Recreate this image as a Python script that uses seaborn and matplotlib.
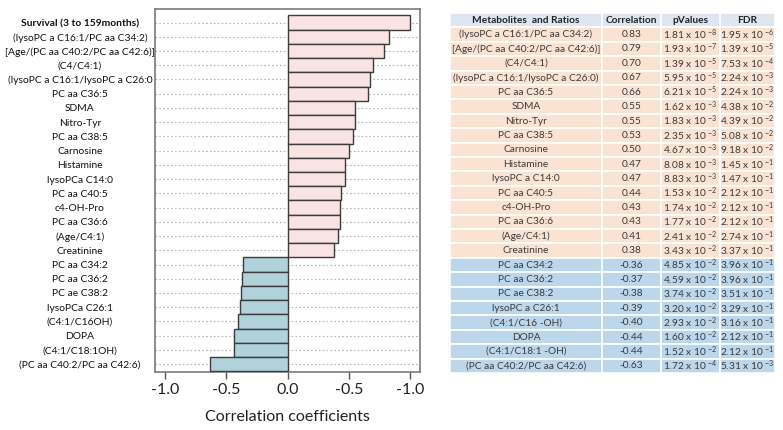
import pandas as pd
import seaborn as sns
import matplotlib.pyplot as plt

# chart rows (top to bottom)
chart_labels = [
    "Survival (3 to 159months)",
    "(lysoPC a C16:1/PC aa C34:2)",
    "[Age/(PC aa C40:2/PC aa C42:6)]",
    "(C4/C4:1)",
    "(lysoPC a C16:1/lysoPC a C26:0",
    "PC aa C36:5",
    "SDMA",
    "Nitro-Tyr",
    "PC aa C38:5",
    "Carnosine",
    "Histamine",
    "lysoPCa C14:0",
    "PC aa C40:5",
    "c4-OH-Pro",
    "PC aa C36:6",
    "(Age/C4:1)",
    "Creatinine",
    "PC aa C34:2",
    "PC aa C36:2",
    "PC ae C38:2",
    "lysoPCa C26:1",
    "(C4:1/C16OH)",
    "DOPA",
    "(C4:1/C18:1OH)",
    "(PC aa C40:2/PC aa C42:6)",
]
chart_values = [1.00, 0.83, 0.79, 0.70, 0.67, 0.66, 0.55, 0.55, 0.53, 0.50, 0.47,
                0.47, 0.44, 0.43, 0.43, 0.41, 0.38, -0.36, -0.37, -0.38, -0.39,
                -0.40, -0.44, -0.44, -0.63]
xtick_values = [-1.0, -0.5, 0.0, 0.5, 1.0]
xtick_labels = ["-1.0", "-0.5", "0.0", "-0.5", "-1.0"]

# table
table_header = ["Metabolites  and Ratios", "Correlation", "pValues", "FDR"]
table_names = [
    "(lysoPC a C16:1/PC aa C34:2)",
    "[Age/(PC aa C40:2/PC aa C42:6)]",
    "(C4/C4:1)",
    "(lysoPC a C16:1/lysoPC a C26:0)",
    "PC aa C36:5",
    "SDMA",
    "Nitro-Tyr",
    "PC aa C38:5",
    "Carnosine",
    "Histamine",
    "lysoPC a C14:0",
    "PC aa C40:5",
    "c4-OH-Pro",
    "PC aa C36:6",
    "(Age/C4:1)",
    "Creatinine",
    "PC aa C34:2",
    "PC aa C36:2",
    "PC ae C38:2",
    "lysoPC a C26:1",
    "(C4:1/C16 -OH)",
    "DOPA",
    "(C4:1/C18:1 -OH)",
    "(PC aa C40:2/PC aa C42:6)",
]
table_corr = ["0.83", "0.79", "0.70", "0.67", "0.66", "0.55", "0.55", "0.53",
              "0.50", "0.47", "0.47", "0.44", "0.43", "0.43", "0.41", "0.38",
              "-0.36", "-0.37", "-0.38", "-0.39", "-0.40", "-0.44", "-0.44", "-0.63"]
pval_mant = ["1.81", "1.93", "1.39", "5.95", "6.21", "1.62", "1.83", "2.35",
             "4.67", "8.08", "8.83", "1.53", "1.74", "1.77", "2.41", "3.43",
             "4.85", "4.59", "3.74", "3.20", "2.93", "1.60", "1.52", "1.72"]
pval_exp = [-8, -7, -5, -5, -5, -3, -3, -3, -3, -3, -3, -2, -2, -2, -2, -2,
            -2, -2, -2, -2, -2, -2, -2, -4]
fdr_mant = ["1.95", "1.39", "7.53", "2.24", "2.24", "4.38", "4.39", "5.08",
            "9.18", "1.45", "1.47", "2.12", "2.12", "2.12", "2.74", "3.37",
            "3.96", "3.96", "3.51", "3.29", "3.16", "2.12", "2.12", "5.31"]
fdr_exp = [-6, -5, -4, -3, -3, -2, -2, -2, -2, -1, -1, -1, -1, -1, -1, -1,
           -1, -1, -1, -1, -1, -1, -1, -3]

plt.rcParams["font.family"] = ["Lato", "DejaVu Sans"]
plt.rcParams["mathtext.fontset"] = "custom"
plt.rcParams["mathtext.rm"] = "Lato"
plt.rcParams["mathtext.it"] = "Lato:italic"
plt.rcParams["mathtext.bf"] = "Lato:bold"

W, H = 783, 430
fig = plt.figure(figsize=(W / 100, H / 100), dpi=100)

# ---- bar chart ----
ax = fig.add_axes([155 / W, 58 / H, 265 / W, 363 / H])
df = pd.DataFrame({"label": chart_labels, "value": chart_values})
df["sign"] = ["pos" if v >= 0 else "neg" for v in df["value"]]
sns.barplot(data=df, x="value", y="label", hue="sign", orient="h",
            palette={"pos": "#fde0df", "neg": "#a9d7e2"}, dodge=False,
            width=1.0, edgecolor="#3c3c3c", linewidth=1.0, legend=False,
            zorder=3, ax=ax)
ax.set_xlim(-1.08, 1.08)
ax.set_ylim(len(chart_labels) - 0.45, -0.95)
ax.set_xticks(xtick_values)
ax.set_xticklabels(xtick_labels, fontsize=11.5, color="#222222")
ax.set_xlabel("Correlation coefficients", fontsize=11.5, labelpad=9, color="#222222")
ax.set_ylabel("")
ax.tick_params(axis="x", direction="out", length=5, width=1, color="#555555", pad=3)
ax.tick_params(axis="y", length=0, pad=54, labelsize=7.4, labelcolor="#111111")
for i, t in enumerate(ax.get_yticklabels()):
    t.set_horizontalalignment("center")
    if i == 0:
        t.set_fontweight("bold")
ax.yaxis.grid(True, linestyle=(0, (1.5, 2)), color="#b5b5b5", linewidth=0.8)
ax.xaxis.grid(False)
ax.set_axisbelow(True)
for s in ax.spines.values():
    s.set_color("#7a7a7a")
    s.set_linewidth(1.2)

# ---- table ----
tax = fig.add_axes([450 / W, (H - 373) / H, 325 / W, 360 / H])
tax.axis("off")
cells = []
for n, c, pm, pe, fm, fe in zip(table_names, table_corr, pval_mant, pval_exp, fdr_mant, fdr_exp):
    cells.append([n, c, f"{pm} x 10 $^{{{pe}}}$", f"{fm} x 10 $^{{{fe}}}$"])
colours = [["#fbe3d4"] * 4 if not c.startswith("-") else ["#bcd6ec"] * 4 for c in table_corr]
tbl = tax.table(cellText=cells, colLabels=table_header, cellColours=colours,
                colColours=["#dde6f1"] * 4, cellLoc="center",
                colWidths=[152, 59, 59, 55], bbox=[0, 0, 1, 1])
tbl.auto_set_font_size(False)
for (r, c), cell in tbl.get_celld().items():
    cell.set_edgecolor("white")
    cell.set_linewidth(1.2)
    txt = cell.get_text()
    txt.set_fontsize(7.3)
    txt.set_color("#3a3a3a")
    if r == 0:
        txt.set_fontweight("bold")
        txt.set_color("#222222")

fig.savefig("out.png", dpi=100)
